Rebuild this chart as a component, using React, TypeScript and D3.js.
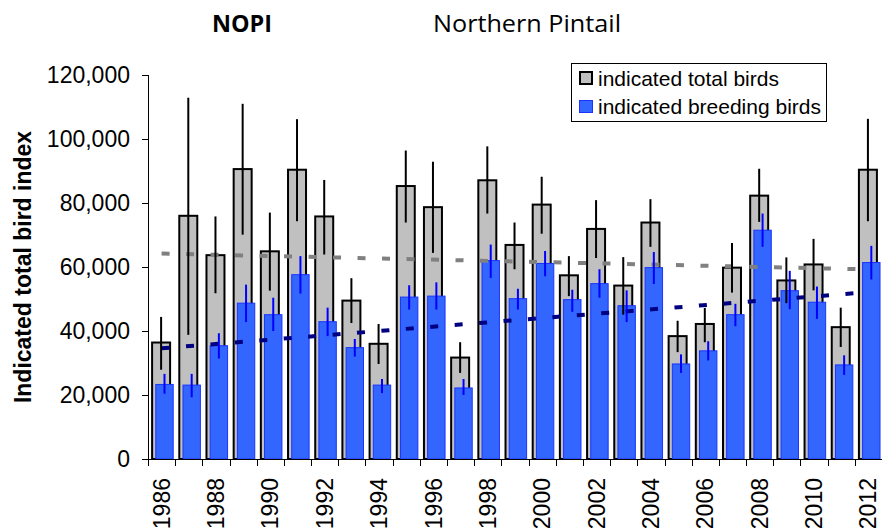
import React from "react";
import * as d3 from "d3";

// Survey years
const years = [
  1986, 1987, 1988, 1989, 1990, 1991, 1992, 1993, 1994, 1995, 1996, 1997, 1998, 1999,
  2000, 2001, 2002, 2003, 2004, 2005, 2006, 2007, 2008, 2009, 2010, 2011, 2012,
];

// Indicated total birds with upper/lower error limits
const totalBirds = [
  36400, 76000, 63700, 90600, 64900, 90400, 75800, 49500, 36000, 85300, 78700, 31700, 87100, 66900,
  79500, 57400, 71900, 54200, 73900, 38400, 42200, 59800, 82300, 55800, 60800, 41200, 90400,
];
const totalHigh = [
  44400, 112900, 75800, 111000, 77000, 106200, 87200, 56500, 42200, 96400, 92900, 36500, 97700, 73900,
  88200, 63400, 80900, 63100, 81200, 43200, 47200, 67500, 90700, 63000, 68800, 47300, 106300,
];
const totalLow = [
  27900, 38800, 51800, 70100, 52600, 74300, 63900, 42500, 29700, 73900, 64400, 26900, 76700, 59300,
  70400, 50900, 62800, 45100, 66300, 33400, 36500, 52000, 74100, 48700, 52700, 35000, 74300,
];

// Indicated breeding birds with upper/lower error limits
const breedingBirds = [
  23300, 23100, 35400, 48700, 45100, 57600, 42900, 34800, 23100, 50600, 50900, 22200, 62000, 50100,
  61100, 49800, 54800, 47900, 59800, 29700, 33800, 45100, 71500, 52600, 49000, 29400, 61400,
];
const breedingHigh = [
  26600, 26600, 39300, 54500, 50400, 63400, 47300, 37500, 25000, 54300, 55200, 25000, 67000, 53200,
  65000, 52900, 59300, 52700, 64700, 32700, 36800, 48500, 76700, 58800, 53900, 32400, 66600,
];
const breedingLow = [
  20400, 19300, 31400, 42800, 40000, 51700, 38400, 32000, 20600, 46700, 46700, 20000, 56600, 46700,
  57100, 46000, 50400, 42800, 54700, 26900, 30800, 41500, 66300, 46800, 43800, 26300, 56100,
];

// Linear trend lines (end points)
const trendYears = [1986, 2012];
const totalTrend = [64200, 59250];
const breedingTrend = [34600, 52150];

const yTicks = [0, 20000, 40000, 60000, 80000, 100000, 120000];
const xLabelYears = [1986, 1988, 1990, 1992, 1994, 1996, 1998, 2000, 2002, 2004, 2006, 2008, 2010, 2012];

const W = 882;
const H = 529;
const plot = { left: 148, right: 882, top: 75, bottom: 459 };

const AXIS_FONT = "'Liberation Sans', Arial, sans-serif";
const TITLE_FONT = "'Open Sans', 'Noto Sans', sans-serif";

export default function App() {
  const x = d3
    .scaleBand<number>()
    .domain(years)
    .range([plot.left, plot.right])
    .paddingInner(0)
    .paddingOuter(0);
  const bw = x.bandwidth();
  const y = d3.scaleLinear().domain([0, 120000]).range([plot.bottom, plot.top]);
  const fmt = d3.format(",");

  // bar placement inside each category band
  const grayX0 = 0.151 * bw;
  const grayW = 0.662 * bw;
  const blueX0 = 0.287 * bw;
  const blueW = 0.64 * bw;

  const trendX = (yr: number) => (x(yr) as number) + bw / 2;
  const line = d3
    .line<[number, number]>()
    .x((d) => trendX(d[0]))
    .y((d) => y(d[1]));

  const totalTrendPts = trendYears.map((yr, i) => [yr, totalTrend[i]] as [number, number]);
  const breedingTrendPts = trendYears.map((yr, i) => [yr, breedingTrend[i]] as [number, number]);

  return (
    <svg
      width={W}
      height={H}
      viewBox={`0 0 ${W} ${H}`}
      style={{ position: "absolute", left: 0, top: 0, display: "block", background: "#fff" }}
    >
      {/* titles */}
      <text
        x={212}
        y={32}
        fontFamily={TITLE_FONT}
        fontWeight="bold"
        fontSize={24}
        fill="#000"
        textLength={60}
        lengthAdjust="spacingAndGlyphs"
      >
        NOPI
      </text>
      <text
        x={433}
        y={32}
        fontFamily={TITLE_FONT}
        fontSize={24}
        fill="#000"
        textLength={188}
        lengthAdjust="spacingAndGlyphs"
      >
        Northern Pintail
      </text>

      {/* y axis title */}
      <text
        transform={`translate(31, ${(plot.top + plot.bottom) / 2}) rotate(-90)`}
        textAnchor="middle"
        fontFamily={AXIS_FONT}
        fontWeight="bold"
        fontSize={23}
        fill="#000"
      >
        Indicated total bird index
      </text>

      {/* gray bars: total birds */}
      {years.map((yr, i) => (
        <rect
          key={`t${yr}`}
          x={(x(yr) as number) + grayX0}
          y={y(totalBirds[i])}
          width={grayW}
          height={y(0) - y(totalBirds[i])}
          fill="#c0c0c0"
          stroke="#000"
          strokeWidth={2}
        />
      ))}

      {/* blue bars: breeding birds */}
      {years.map((yr, i) => (
        <rect
          key={`b${yr}`}
          x={(x(yr) as number) + blueX0}
          y={y(breedingBirds[i])}
          width={blueW}
          height={y(0) - y(breedingBirds[i])}
          fill="#3366ff"
          stroke="#1a33ff"
          strokeWidth={1}
        />
      ))}

      {/* trend lines */}
      <path
        d={line(totalTrendPts) ?? ""}
        fill="none"
        stroke="#808080"
        strokeWidth={4}
        strokeDasharray="8 16.5"
      />
      <path
        d={line(breedingTrendPts) ?? ""}
        fill="none"
        stroke="#000080"
        strokeWidth={4}
        strokeDasharray="8 16.5"
      />

      {/* error bars */}
      {years.map((yr, i) => {
        const cx = (x(yr) as number) + grayX0 + grayW / 2;
        return (
          <line
            key={`te${yr}`}
            x1={cx}
            x2={cx}
            y1={y(totalHigh[i])}
            y2={y(totalLow[i])}
            stroke="#000"
            strokeWidth={2}
          />
        );
      })}
      {years.map((yr, i) => {
        const cx = (x(yr) as number) + blueX0 + blueW / 2;
        return (
          <line
            key={`be${yr}`}
            x1={cx}
            x2={cx}
            y1={y(breedingHigh[i])}
            y2={y(breedingLow[i])}
            stroke="#0000ff"
            strokeWidth={2}
          />
        );
      })}

      {/* y axis */}
      <line x1={plot.left + 0.5} x2={plot.left + 0.5} y1={plot.top} y2={plot.bottom} stroke="#000" strokeWidth={1} />
      {yTicks.map((t) => (
        <g key={`yt${t}`}>
          <line x1={plot.left - 6} x2={plot.left} y1={Math.round(y(t)) + 0.5} y2={Math.round(y(t)) + 0.5} stroke="#000" strokeWidth={1} />
          <text
            x={130}
            y={y(t)}
            dy="0.35em"
            textAnchor="end"
            fontFamily={AXIS_FONT}
            fontSize={23}
            fill="#000"
          >
            {fmt(t)}
          </text>
        </g>
      ))}

      {/* x axis */}
      <line x1={plot.left} x2={plot.right} y1={plot.bottom + 0.5} y2={plot.bottom + 0.5} stroke="#000" strokeWidth={1} />
      {years.map((yr) => {
        const tx = Math.round(x(yr) as number) + 0.5;
        return <line key={`xt${yr}`} x1={tx} x2={tx} y1={plot.bottom} y2={plot.bottom + 7} stroke="#000" strokeWidth={1} />;
      })}
      {xLabelYears.map((yr) => {
        const cx = (x(yr) as number) + bw / 2;
        return (
          <text
            key={`xl${yr}`}
            transform={`translate(${cx}, 478) rotate(-90)`}
            dy="0.35em"
            textAnchor="end"
            fontFamily={AXIS_FONT}
            fontSize={23}
            fill="#000"
          >
            {yr}
          </text>
        );
      })}

      {/* legend */}
      <rect x={571.5} y={63.5} width={255} height={58} fill="#fff" stroke="#000" strokeWidth={1} />
      <rect x={580} y={72} width={12} height={12} fill="#c0c0c0" stroke="#000" strokeWidth={2} />
      <text x={598} y={86} fontFamily={AXIS_FONT} fontSize={21} fill="#000">
        indicated total birds
      </text>
      <rect x={579.5} y={100.5} width={13} height={12} fill="#3366ff" stroke="#1a33ff" strokeWidth={1} />
      <text x={598} y={114} fontFamily={AXIS_FONT} fontSize={21} fill="#000">
        indicated breeding birds
      </text>
    </svg>
  );
}
